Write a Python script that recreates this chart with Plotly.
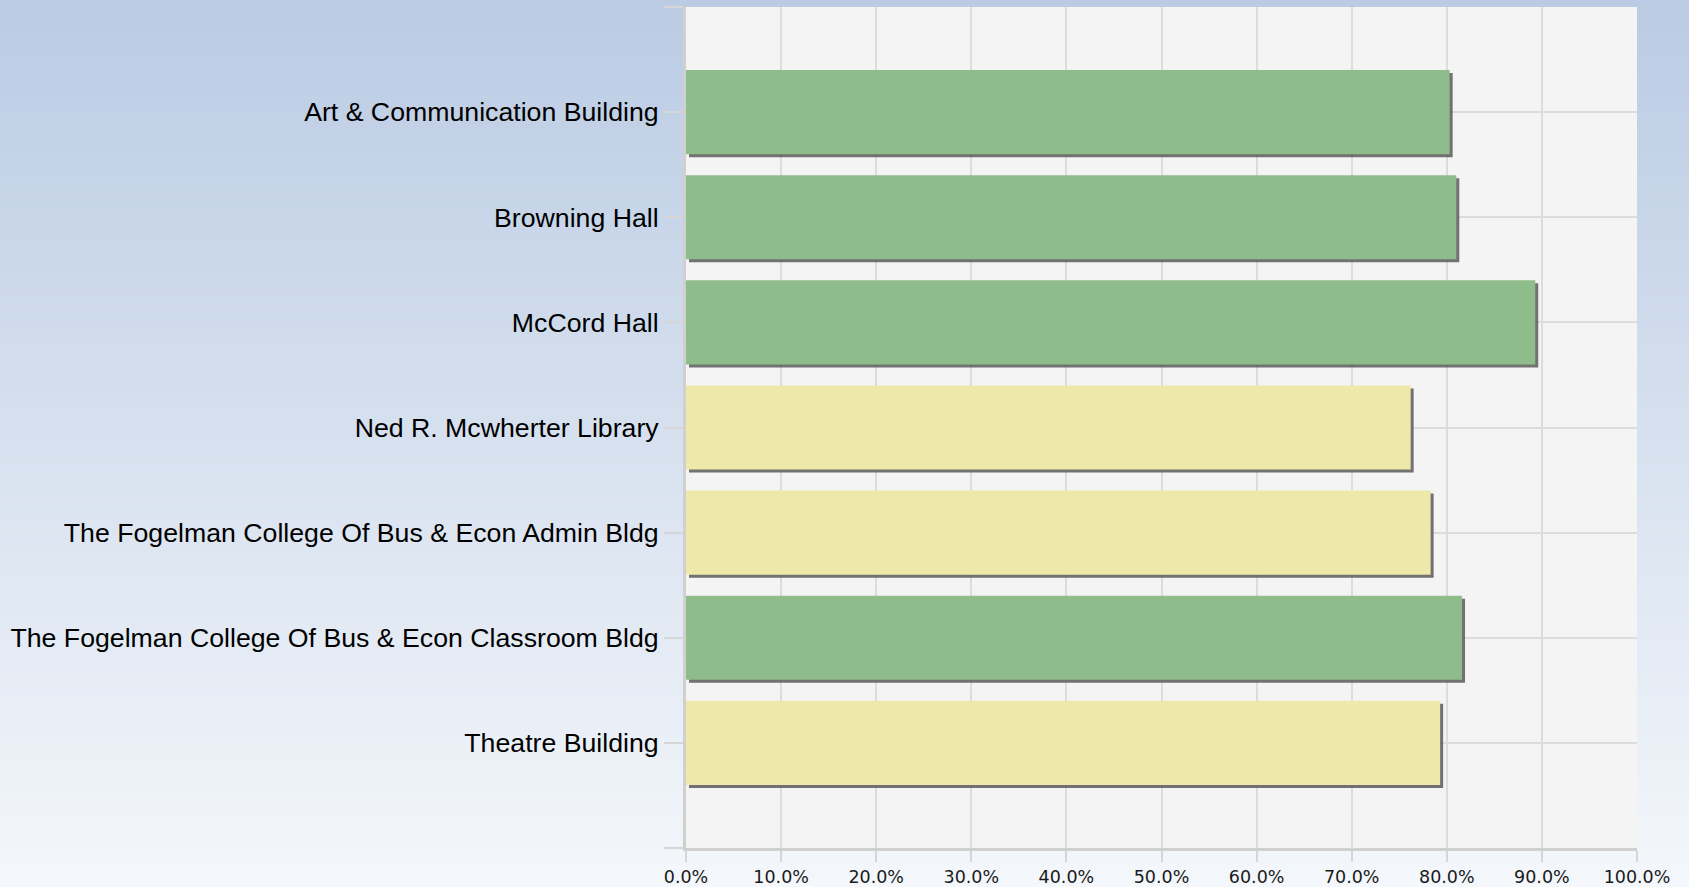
import base64, struct, zlib
import plotly.graph_objects as go

buildings = [
    "Art & Communication Building",
    "Browning Hall",
    "McCord Hall",
    "Ned R. Mcwherter Library",
    "The Fogelman College Of Bus & Econ Admin Bldg",
    "The Fogelman College Of Bus & Econ Classroom Bldg",
    "Theatre Building",
]
scores = [0.803, 0.810, 0.893, 0.762, 0.783, 0.816, 0.793]
x_ticks = [0.0, 0.1, 0.2, 0.3, 0.4, 0.5, 0.6, 0.7, 0.8, 0.9, 1.0]
x_tick_labels = ["0.0%", "10.0%", "20.0%", "30.0%", "40.0%", "50.0%",
                 "60.0%", "70.0%", "80.0%", "90.0%", "100.0%"]
threshold = 0.80

GREEN = "#8FBC8B"
YELLOW = "#EEE8AA"
colors = [GREEN if v >= threshold else YELLOW for v in scores]
ypos = list(range(len(buildings)))


def gradient_png(top, bottom, h=256):
    rows = b""
    for i in range(h):
        t = i / (h - 1)
        c = bytes(int(round(top[k] + (bottom[k] - top[k]) * t)) for k in range(3))
        rows += b"\x00" + c
    def chunk(tag, data):
        return struct.pack(">I", len(data)) + tag + data + struct.pack(">I", zlib.crc32(tag + data) & 0xffffffff)
    png = b"\x89PNG\r\n\x1a\n"
    png += chunk(b"IHDR", struct.pack(">IIBBBBB", 1, h, 8, 2, 0, 0, 0))
    png += chunk(b"IDAT", zlib.compress(rows))
    png += chunk(b"IEND", b"")
    return "data:image/png;base64," + base64.b64encode(png).decode()


W, H = 1689, 887
ml, mr, mt, mb = 686, 52, 7, 39
pw, ph = W - ml - mr, H - mt - mb

bar_w = 0.8
shadow_dy = 3 / (ph / 8)
shadow_dx = 3 / (pw / 1.0)

fig = go.Figure()
fig.add_trace(go.Bar(
    y=ypos, x=scores, base=shadow_dx, orientation="h",
    width=bar_w, offset=-bar_w / 2 + shadow_dy,
    marker=dict(color="rgba(90,90,90,0.85)", line=dict(width=0)),
    hoverinfo="skip", showlegend=False,
))
fig.add_trace(go.Bar(
    y=ypos, x=scores, orientation="h",
    width=bar_w, offset=-bar_w / 2,
    marker=dict(color=colors, line=dict(width=0)),
    showlegend=False,
))

fig.update_layout(
    width=W, height=H,
    margin=dict(l=ml, r=mr, t=mt, b=mb, pad=0, autoexpand=False),
    barmode="overlay",
    paper_bgcolor="#F3F6FA",
    plot_bgcolor="rgba(0,0,0,0)",
    images=[dict(
        source=gradient_png((186, 203, 227), (244, 247, 251)),
        xref="paper", yref="paper",
        x=-ml / pw, y=1 + mt / ph,
        sizex=W / pw, sizey=H / ph,
        sizing="stretch", xanchor="left", yanchor="top", layer="below",
    )],
    shapes=[dict(
        type="rect", xref="paper", yref="paper", x0=0, x1=1, y0=0, y1=1,
        fillcolor="#F4F4F4", line=dict(width=0), layer="below",
    )],
    xaxis=dict(
        range=[0, 1.0], tickvals=x_ticks, ticktext=x_tick_labels,
        automargin=False,
        showgrid=True, gridcolor="#DCDCDC", gridwidth=2,
        ticks="outside", ticklen=11, tickwidth=2, tickcolor="#D6D6D6",
        ticklabelstandoff=0,
        showline=True, linecolor="#D0D0D0", linewidth=3,
        zeroline=False, fixedrange=True,
        tickfont=dict(family="DejaVu Sans", size=17.5, color="#1A1A1A"),
    ),
    yaxis=dict(
        range=[len(buildings), -1],
        tickvals=[-1] + ypos + [len(buildings)],
        ticktext=[""] + buildings + [""],
        automargin=False,
        showgrid=True, gridcolor="#DCDCDC", gridwidth=2,
        ticks="outside", ticklen=19, tickwidth=2, tickcolor="#D6D6D6",
        showline=True, linecolor="#D0D0D0", linewidth=3,
        zeroline=False, fixedrange=True,
        tickfont=dict(family="Liberation Sans, Arial", size=26.7, color="#000000"),
    ),
)

fig.write_html(
    "out.html",
    config={"displayModeBar": False},
    post_script="document.body.style.margin='0';document.body.style.overflow='hidden';",
)
